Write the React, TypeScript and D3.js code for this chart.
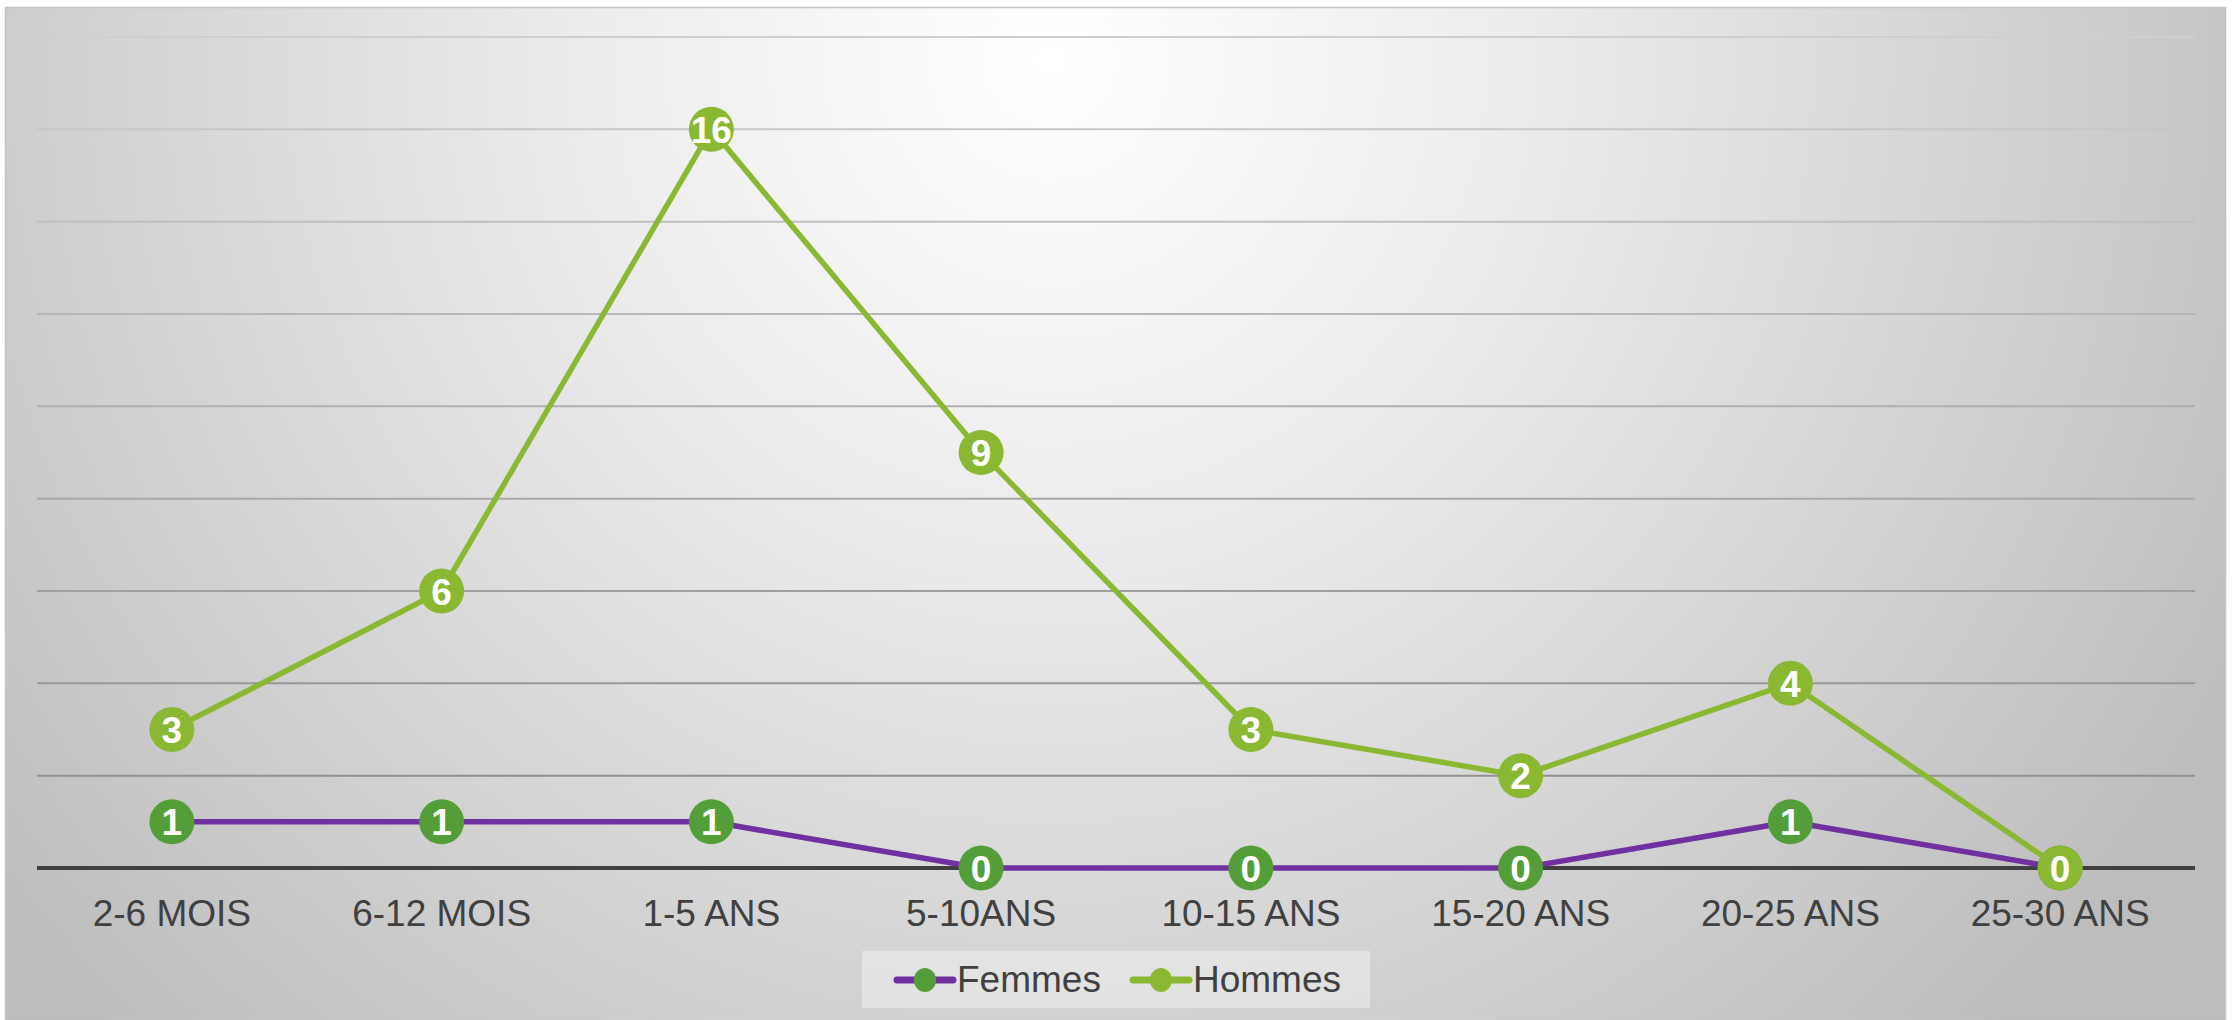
import React from 'react';
import * as d3 from 'd3';

const categories = ['2-6 MOIS', '6-12 MOIS', '1-5 ANS', '5-10ANS', '10-15 ANS', '15-20 ANS', '20-25 ANS', '25-30 ANS'];
const femmes = [1, 1, 1, 0, 0, 0, 1, 0];
const hommes = [3, 6, 16, 9, 3, 2, 4, 0];
const yTicks = [0, 2, 4, 6, 8, 10, 12, 14, 16, 18];

const series = [
  { name: 'Femmes', values: femmes, line: '#7030a0', marker: '#549e39' },
  { name: 'Hommes', values: hommes, line: '#8ab833', marker: '#8ab833' },
];

const W = 2236;
const H = 1020;
const FONT = '"Liberation Sans", Arial, sans-serif';

export default function App() {
  // plot area
  const left = 37;
  const right = 2195;
  const top = 37;
  const bottom = 868;

  const x = d3.scaleBand<string>().domain(categories).range([left, right]);
  const y = d3.scaleLinear().domain([0, 18]).range([bottom, top]);
  const cx = (c: string) => (x(c) || 0) + x.bandwidth() / 2;

  const line = d3.line<number>()
    .x((_, i) => cx(categories[i]))
    .y(d => y(d));

  return (
    <svg width={W} height={H} style={{ position: 'absolute', left: 0, top: 0 }} fontFamily={FONT}>
      <defs>
        <radialGradient id="bg" gradientUnits="userSpaceOnUse" cx={1050} cy={60} r={1350}>
          <stop offset="0" stopColor="#ffffff" />
          <stop offset="0.35" stopColor="#ececec" />
          <stop offset="1" stopColor="#bdbdbd" />
        </radialGradient>
        <linearGradient id="grid" gradientUnits="userSpaceOnUse" x1={0} y1={top} x2={0} y2={bottom}>
          <stop offset="0" stopColor="#cfcfcf" />
          <stop offset="1" stopColor="#888888" />
        </linearGradient>
      </defs>
      <rect x={0} y={0} width={W} height={H} fill="#ffffff" />
      <rect x={5.5} y={7.5} width={2220} height={1013} fill="url(#bg)" stroke="#c4c4c4" strokeWidth={1.5} />

      {/* gridlines */}
      {yTicks.filter(t => t > 0).map(t => (
        <line key={t} x1={left} x2={right} y1={y(t)} y2={y(t)} stroke="url(#grid)" strokeWidth={2} />
      ))}

      {/* x axis */}
      <line x1={left} x2={right} y1={y(0)} y2={y(0)} stroke="#404040" strokeWidth={4} />
      {categories.map(c => (
        <text key={c} x={cx(c)} y={926} textAnchor="middle" fontSize={37} fill="#404040">{c}</text>
      ))}

      {/* series */}
      {series.map(s => (
        <g key={s.name}>
          <path d={line(s.values) || ''} fill="none" stroke={s.line} strokeWidth={5.5} strokeLinejoin="round" />
          {s.values.map((v, i) => (
            <g key={i}>
              <circle cx={cx(categories[i])} cy={y(v)} r={22.5} fill={s.marker} />
              <text x={cx(categories[i])} y={y(v) + 13.5} textAnchor="middle" fontSize={37}
                fontWeight="bold" fill="#ffffff">{v}</text>
            </g>
          ))}
        </g>
      ))}

      {/* legend */}
      <rect x={862} y={951} width={508} height={57} fill="#ffffff" fillOpacity={0.35} />
      {series.map((s, i) => {
        const lx = i === 0 ? 897 : 1133;
        return (
          <g key={s.name}>
            <line x1={lx} x2={lx + 56} y1={980} y2={980} stroke={s.line} strokeWidth={7} strokeLinecap="round" />
            <ellipse cx={lx + 28} cy={980} rx={11} ry={12} fill={s.marker} />
            <text x={lx + 60} y={992} fontSize={37} fill="#404040">{s.name}</text>
          </g>
        );
      })}
    </svg>
  );
}
